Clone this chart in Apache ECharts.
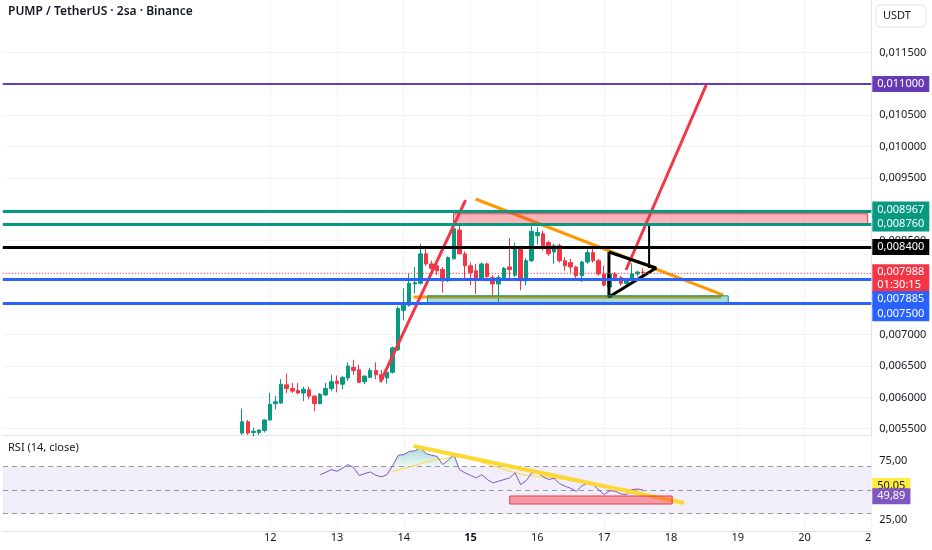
<!DOCTYPE html>
<html><head><meta charset="utf-8">
<script src="https://cdn.jsdelivr.net/npm/echarts@6/dist/echarts.min.js"></script>
<style>html,body{margin:0;padding:0;background:#fff}#c{width:932px;height:550px}</style>
</head><body><div id="c"></div><script>
// ---------- data ----------
const FIRST_DAY = 8, LAST_DAY = 21, SLOTS_PER_DAY = 12;   // 2h candles
const dayTicks = [12, 13, 14, 15, 16, 17, 18, 19, 20, 21];
const priceTicks = [0.0055, 0.006, 0.0065, 0.007, 0.0075, 0.008, 0.0085, 0.009, 0.0095, 0.01, 0.0105, 0.011, 0.0115];
const rsiTicks = [25, 75];
const rsiGuides = [70, 50, 30];

const candleStart = 43; // slot index of first candle
// [open, close, low, high]
const candles = [
  [0.00543,0.00561,0.00540,0.00582],[0.00561,0.00543,0.00540,0.00564],[0.00544,0.00546,0.00538,0.00552],
  [0.00544,0.00548,0.00540,0.00549],[0.00547,0.00564,0.00544,0.00565],[0.00564,0.00589,0.00563,0.00607],
  [0.00590,0.00593,0.00581,0.00602],[0.00591,0.00621,0.00590,0.00629],[0.00620,0.00614,0.00607,0.00638],
  [0.00614,0.00610,0.00607,0.00623],[0.00611,0.00607,0.00605,0.00623],[0.00607,0.00613,0.00594,0.00617],
  [0.00612,0.00602,0.00597,0.00617],[0.00602,0.00590,0.00578,0.00603],[0.00590,0.00605,0.00589,0.00607],
  [0.00604,0.00614,0.00602,0.00623],[0.00614,0.00625,0.00610,0.00636],[0.00626,0.00622,0.00608,0.00635],
  [0.00621,0.00632,0.00613,0.00634],[0.00631,0.00650,0.00626,0.00656],[0.00648,0.00643,0.00636,0.00660],
  [0.00644,0.00624,0.00623,0.00652],[0.00625,0.00634,0.00621,0.00635],[0.00632,0.00643,0.00631,0.00647],
  [0.00643,0.00636,0.00629,0.00656],[0.00636,0.00629,0.00627,0.00644],[0.00631,0.00640,0.00622,0.00642],
  [0.00640,0.00679,0.00638,0.00681],[0.00676,0.00742,0.00674,0.00745],[0.00739,0.00747,0.00723,0.00774],
  [0.00747,0.00782,0.00745,0.00798],[0.00781,0.00783,0.00766,0.00808],[0.00782,0.00829,0.00780,0.00845],
  [0.00829,0.00813,0.00810,0.00841],[0.00813,0.00806,0.00795,0.00818],[0.00810,0.00802,0.00795,0.00815],
  [0.00804,0.00786,0.00767,0.00808],[0.00786,0.00823,0.00784,0.00825],[0.00821,0.00869,0.00820,0.00873],
  [0.00867,0.00829,0.00828,0.00876],[0.00829,0.00810,0.00790,0.00833],[0.00810,0.00799,0.00779,0.00815],
  [0.00802,0.00787,0.00765,0.00813],[0.00790,0.00813,0.00787,0.00815],[0.00813,0.00793,0.00785,0.00815],
  [0.00791,0.00781,0.00763,0.00795],[0.00781,0.00791,0.00751,0.00795],[0.00791,0.00806,0.00789,0.00808],
  [0.00808,0.00804,0.00787,0.00854],[0.00795,0.00839,0.00792,0.00847],[0.00839,0.00786,0.00771,0.00842],
  [0.00786,0.00818,0.00779,0.00822],[0.00818,0.00865,0.00816,0.00876],[0.00858,0.00863,0.00844,0.00871],
  [0.00861,0.00842,0.00834,0.00866],[0.00847,0.00829,0.00826,0.00850],[0.00832,0.00842,0.00813,0.00845],
  [0.00842,0.00818,0.00815,0.00845],[0.00818,0.00810,0.00802,0.00824],[0.00815,0.00808,0.00799,0.00821],
  [0.00808,0.00794,0.00789,0.00810],[0.00794,0.00816,0.00784,0.00818],[0.00816,0.00831,0.00813,0.00836],
  [0.00831,0.00818,0.00815,0.00839],[0.00818,0.00797,0.00794,0.00821],[0.00797,0.00779,0.00777,0.00810],
  [0.00776,0.00797,0.00758,0.00802],[0.00797,0.00791,0.00785,0.00800],[0.00791,0.00782,0.00778,0.00794],
  [0.00782,0.00787,0.00777,0.00790],[0.00787,0.00797,0.00786,0.00814],[0.00797,0.00800,0.00793,0.00802],
  [0.00800,0.007988,0.00794,0.00806]
];

const rsiStart = 57;
const rsiValues = [63.1,65.0,67.4,65.9,68.5,71.6,69.0,62.3,64.0,65.4,62.5,61.2,63.1,70.5,79.5,80.1,82.9,83.2,86.6,
  80.9,79.5,78.6,71.6,75.5,80.1,67.4,64.6,62.5,60.3,63.1,59.0,56.1,57.5,58.9,60.3,64.6,54.7,58.0,64.6,65.0,
  61.5,58.9,60.0,55.5,53.2,51.5,49.0,53.5,56.1,54.5,50.5,46.2,49.5,49.0,46.8,46.2,50.4,51.0,49.89];
const rsiMAStart = 70;
const rsiMAValues = [65.7,67.0,68.3,69.7,71.0,72.5,73.7,74.8,75.9,76.5,77.3,78.2,78.0,77.3,76.3,75.0,73.6,72.0,
  70.4,69.1,67.5,66.0,64.9,63.6,62.6,62.1,61.6,61.0,60.6,60.3,59.7,59.1,58.3,57.2,56.5,56.0,55.5,54.6,53.6,
  52.9,52.0,51.2,50.6,50.3,50.2,50.05];
const overbought = 70;

// horizontal levels
const purpleLevel = 0.011;
const greenLevels = [0.008967, 0.00876];
const blackLevel = 0.0084;
const blueLevels = [0.007885, 0.0075];
const lastPrice = 0.007988;
const countdown = '01:30:15';

// drawings in [day, value]
const redTrend1 = [[13.651, 0.006245], [14.927, 0.009149]];
const redTrend2 = [[17.328, 0.008032], [18.529, 0.010984]];
const orangeTrend = [[15.077, 0.009165], [18.784, 0.007633]];
const orangeSupport = [[14.146, 0.0076015], [18.754, 0.0076015]];
const triangle = [[17.073, 0.00832], [17.779, 0.008064], [17.073, 0.0076015], [17.073, 0.00832]];
const triangleHeight = [[17.674, 0.00875], [17.674, 0.008064]];
const resistanceZone = [[14.747, 0.00893], [20.946, 0.00876]];
const supportZone = [[14.356, 0.00762], [18.859, 0.0075]];
const rsiTrend = [[14.146, 87.4], [18.199, 39.1]];
const rsiZone = [[15.587, 45.0], [18.019, 38.2]];

// ---------- build ----------
const FONT = 'Noto Sans';
const TOTAL = (LAST_DAY - FIRST_DAY) * SLOTS_PER_DAY + 1;
const slots = [];
for (let i = 0; i < TOTAL; i++) {
  const d = FIRST_DAY + Math.floor(i / SLOTS_PER_DAY), h = (i % SLOTS_PER_DAY) * 2;
  slots.push(d + ' ' + String(h).padStart(2, '0') + ':00');
}
function pad(start, arr) { const out = new Array(TOTAL).fill('-'); arr.forEach((v, k) => out[start + k] = v); return out; }
const fmtPrice = v => v.toFixed(6).replace('.', ',');
const fmtRsi = v => v.toFixed(2).replace('.', ',');
const isTick = (arr, v, eps) => arr.some(t => Math.abs(t - v) < eps);

const GREEN = '#089981', RED = '#f23645', BLUE = '#2962ff', PURPLE = '#673ab7';
const GRID_LINE = '#f0f3fa', BORDER = '#e0e3eb', TEXT = '#131722';

const rsiPadded = pad(rsiStart, rsiValues);
const obBase = pad(rsiStart, rsiValues.map(() => overbought));
const obTop = pad(rsiStart, rsiValues.map(v => Math.max(v - overbought, 0)));
const rsiLast = rsiValues[rsiValues.length - 1];
const rsiMALast = rsiMAValues[rsiMAValues.length - 1];

const levelLabel = (bg, text, dy, color) => ({
  show: true, position: 'end', distance: 1, formatter: text, backgroundColor: bg,
  color: color || '#fff', fontSize: 11, fontFamily: FONT, padding: [2, 5, 1, 5], lineHeight: 13, offset: [0, dy]
});

const drawLine = (data, color, width) => ({
  type: 'line', xAxisIndex: 2, yAxisIndex: 0, data, symbol: 'none', silent: true, z: 6,
  lineStyle: { color, width }, animation: false
});

const option = {
  animation: false,
  textStyle: { fontFamily: FONT },
  grid: [
    { left: 2.8, width: 868.5, top: 0, height: 435 },
    { left: 2.8, width: 868.5, top: 437, height: 94.4 }
  ],
  xAxis: [
    { type: 'category', gridIndex: 0, data: slots, boundaryGap: false, position: 'bottom',
      axisLine: { show: true, lineStyle: { color: BORDER } }, axisTick: { show: false }, axisLabel: { show: false }, splitLine: { show: false } },
    { type: 'category', gridIndex: 1, data: slots, boundaryGap: false, position: 'top', show: false },
    { type: 'value', gridIndex: 0, min: FIRST_DAY, max: LAST_DAY, position: 'top', show: false },
    { type: 'value', gridIndex: 1, min: FIRST_DAY, max: LAST_DAY, interval: 1, position: 'bottom',
      axisLine: { show: true, lineStyle: { color: BORDER } }, axisTick: { show: false }, splitLine: { show: false },
      axisLabel: { margin: 1, fontSize: 11, color: TEXT, fontFamily: FONT,
        formatter: v => dayTicks.includes(v) ? (v === 15 ? '{b|15}' : String(v)) : '',
        rich: { b: { fontWeight: 'bold', fontSize: 11, color: TEXT, fontFamily: FONT } } } }
  ],
  yAxis: [
    { type: 'value', gridIndex: 0, position: 'right', min: 0.0054, max: 0.01234, interval: 0.0001,
      axisLine: { show: true, lineStyle: { color: BORDER } }, axisTick: { show: false }, splitLine: { show: false },
      axisLabel: { margin: 8, fontSize: 11, color: TEXT, fontFamily: FONT, formatter: v => isTick(priceTicks, v, 1e-9) ? fmtPrice(v) : '' } },
    { type: 'value', gridIndex: 1, position: 'right', min: 15, max: 95, interval: 5,
      axisLine: { show: true, lineStyle: { color: BORDER } }, axisTick: { show: false }, splitLine: { show: false },
      axisLabel: { margin: 8, fontSize: 11, color: TEXT, fontFamily: FONT, formatter: v => isTick(rsiTicks, v, 1e-6) ? fmtRsi(v) : '' } }
  ],
  series: [
    // price grid lines
    { type: 'line', xAxisIndex: 2, yAxisIndex: 0, data: [], silent: true, z: 0,
      markLine: { silent: true, z: 0, precision: 8, symbol: ['none', 'none'], label: { show: false },
        lineStyle: { color: GRID_LINE, width: 1, type: 'solid' },
        data: priceTicks.map(v => ({ yAxis: v })).concat(dayTicks.map(d => ({ xAxis: d }))) } },
    // rsi grid: vertical lines, band, guides
    { type: 'line', xAxisIndex: 3, yAxisIndex: 1, data: [], silent: true, z: 0,
      markArea: { silent: true, z: 0, itemStyle: { color: 'rgba(126,87,194,0.1)' },
        data: [[{ yAxis: 30 }, { yAxis: 70 }]] },
      markLine: { silent: true, z: 1, precision: 8, symbol: ['none', 'none'], label: { show: false },
        data: dayTicks.map(d => ({ xAxis: d, lineStyle: { color: GRID_LINE, width: 1, type: 'solid' } }))
          .concat(rsiGuides.map(v => ({ yAxis: v, lineStyle: { color: '#9598a1', width: 1, type: [5, 4] } }))) } },
    // candles
    { type: 'candlestick', xAxisIndex: 0, yAxisIndex: 0, z: 3, barWidth: 4,
      encode: { x: 0, y: [1, 2, 3, 4] },
      data: candles.map((c, k) => [candleStart + k].concat(c)),
      itemStyle: { color: GREEN, color0: RED, borderColor: GREEN, borderColor0: RED, borderWidth: 1 } },
    // drawings
    drawLine(orangeSupport, '#ff9800', 3),
    drawLine(redTrend1, RED, 3),
    drawLine(redTrend2, RED, 3),
    drawLine(orangeTrend, '#ff9800', 3),
    drawLine(triangle, '#000000', 3),
    drawLine(triangleHeight, '#000000', 2),
    // levels & zones
    { type: 'line', xAxisIndex: 2, yAxisIndex: 0, data: [], silent: true, z: 7,
      markArea: { silent: true, z: 7, precision: 8,
        data: [
          [{ coord: resistanceZone[0], itemStyle: { color: 'rgba(242,54,69,0.38)', borderColor: RED, borderWidth: 1 } }, { coord: resistanceZone[1] }],
          [{ coord: supportZone[0], itemStyle: { color: 'rgba(8,153,129,0.35)', borderColor: GREEN, borderWidth: 1 } }, { coord: supportZone[1] }]
        ] },
      markLine: { silent: true, z: 8, precision: 8, symbol: ['none', 'none'],
        data: [
          { yAxis: purpleLevel, lineStyle: { color: PURPLE, width: 2, type: 'solid' }, label: levelLabel(PURPLE, fmtPrice(purpleLevel), 0) },
          { yAxis: greenLevels[0], lineStyle: { color: GREEN, width: 3, type: 'solid' }, label: levelLabel(GREEN, fmtPrice(greenLevels[0]), -2) },
          { yAxis: greenLevels[1], lineStyle: { color: GREEN, width: 3, type: 'solid' }, label: levelLabel(GREEN, fmtPrice(greenLevels[1]), -1) },
          { yAxis: blackLevel, lineStyle: { color: '#000000', width: 3, type: 'solid' }, label: levelLabel('#000000', fmtPrice(blackLevel), 0) },
          { yAxis: lastPrice, lineStyle: { color: RED, width: 1, type: [1, 2] }, label: levelLabel(RED, fmtPrice(lastPrice) + '\n' + countdown, 6) },
          { yAxis: blueLevels[0], lineStyle: { color: BLUE, width: 3, type: 'solid' }, label: levelLabel(BLUE, fmtPrice(blueLevels[0]), 20) },
          { yAxis: blueLevels[1], lineStyle: { color: BLUE, width: 3, type: 'solid' }, label: levelLabel(BLUE, fmtPrice(blueLevels[1]), 10) }
        ] } },
    // RSI overbought fill
    { type: 'line', xAxisIndex: 1, yAxisIndex: 1, data: obBase, stack: 'ob', symbol: 'none', silent: true, z: 2,
      lineStyle: { opacity: 0 } },
    { type: 'line', xAxisIndex: 1, yAxisIndex: 1, data: obTop, stack: 'ob', symbol: 'none', silent: true, z: 2,
      lineStyle: { opacity: 0 },
      areaStyle: { color: new echarts.graphic.LinearGradient(0, 0, 0, 1, [
        { offset: 0, color: 'rgba(8,153,129,0.55)' }, { offset: 1, color: 'rgba(8,153,129,0.08)' }]) } },
    // RSI MA
    { type: 'line', xAxisIndex: 1, yAxisIndex: 1, data: pad(rsiMAStart, rsiMAValues), symbol: 'none', silent: true, z: 3,
      lineStyle: { color: '#fdd835', width: 1 } },
    // RSI
    { type: 'line', xAxisIndex: 1, yAxisIndex: 1, data: rsiPadded, symbol: 'none', silent: true, z: 4,
      lineStyle: { color: '#7e57c2', width: 1 } },
    // RSI drawings
    { type: 'line', xAxisIndex: 3, yAxisIndex: 1, data: rsiTrend, symbol: 'none', silent: true, z: 5,
      lineStyle: { color: '#fdd835', width: 4 },
      markArea: { silent: true, z: 6,
        data: [[{ coord: rsiZone[0], itemStyle: { color: 'rgba(242,54,69,0.45)', borderColor: RED, borderWidth: 1 } }, { coord: rsiZone[1] }]] } },
    // RSI value labels
    { type: 'line', xAxisIndex: 3, yAxisIndex: 1, data: [], silent: true, z: 9,
      markLine: { silent: true, z: 9, precision: 4, symbol: ['none', 'none'],
        data: [
          { yAxis: rsiMALast, lineStyle: { color: 'rgba(0,0,0,0)', width: 1, type: 'solid' }, label: levelLabel('#ffeb3b', fmtRsi(rsiMALast), -4, TEXT) },
          { yAxis: rsiLast, lineStyle: { color: 'rgba(0,0,0,0)', width: 1, type: 'solid' }, label: levelLabel('#7e57c2', fmtRsi(rsiLast), 6) }
        ] } }
  ],
  graphic: [
    { type: 'text', left: 8, top: 6, z: 100, style: { text: 'PUMP / TetherUS · 2sa · Binance', font: '600 12px "Noto Sans"', fill: TEXT } },
    { type: 'text', left: 8, top: 442, z: 100, style: { text: 'RSI (14, close)', font: '11px "Noto Sans"', fill: TEXT } },
    { type: 'rect', z: 100, shape: { x: 876, y: 5, width: 50, height: 22, r: 4 }, style: { fill: '#fff', stroke: BORDER, lineWidth: 1 } },
    { type: 'text', z: 101, x: 883, y: 10, style: { text: 'USDT', font: '11px "Noto Sans"', fill: TEXT } },
    { type: 'rect', z: 100, shape: { x: 872, y: 532, width: 60, height: 18 }, style: { fill: '#fff' } }
  ]
};

const chart = echarts.init(document.getElementById('c'), null, { renderer: 'canvas' });
chart.setOption(option);
</script></body></html>
